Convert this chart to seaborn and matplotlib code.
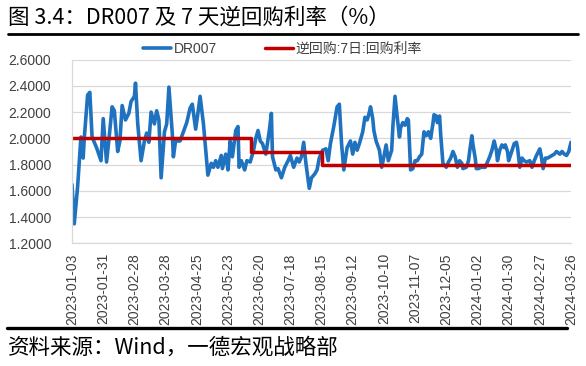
import pandas as pd
import matplotlib.pyplot as plt
import matplotlib.dates as mdates
from matplotlib.lines import Line2D
from matplotlib.ticker import FormatStrFormatter
import seaborn as sns

# ------------------------------------------------------------------
# Data
# ------------------------------------------------------------------
dr007_dates = [
    "2023-01-03", "2023-01-05", "2023-01-08", "2023-01-11", "2023-01-13", "2023-01-14",
    "2023-01-17", "2023-01-19", "2023-01-21", "2023-01-25", "2023-01-29", "2023-01-31",
    "2023-02-03", "2023-02-05", "2023-02-08", "2023-02-10", "2023-02-13", "2023-02-15",
    "2023-02-17", "2023-02-20", "2023-02-23", "2023-02-25", "2023-02-28", "2023-03-01",
    "2023-03-03", "2023-03-06", "2023-03-09", "2023-03-11", "2023-03-13", "2023-03-15",
    "2023-03-18", "2023-03-20", "2023-03-22", "2023-03-24", "2023-03-27", "2023-03-29",
    "2023-03-31", "2023-04-03", "2023-04-04", "2023-04-06", "2023-04-10", "2023-04-13",
    "2023-04-16", "2023-04-19", "2023-04-21", "2023-04-24", "2023-04-26", "2023-04-28",
    "2023-05-01", "2023-05-03", "2023-05-05", "2023-05-08", "2023-05-10", "2023-05-12",
    "2023-05-14", "2023-05-17", "2023-05-18", "2023-05-21", "2023-05-23", "2023-05-25",
    "2023-05-27", "2023-05-30", "2023-06-01", "2023-06-02", "2023-06-04", "2023-06-07",
    "2023-06-09", "2023-06-12", "2023-06-15", "2023-06-17", "2023-06-19", "2023-06-21",
    "2023-06-23", "2023-06-26", "2023-06-29", "2023-07-01", "2023-07-02", "2023-07-05",
    "2023-07-07", "2023-07-10", "2023-07-13", "2023-07-16", "2023-07-18", "2023-07-21",
    "2023-07-24", "2023-07-26", "2023-07-28", "2023-07-30", "2023-08-01", "2023-08-04",
    "2023-08-06", "2023-08-09", "2023-08-11", "2023-08-13", "2023-08-16", "2023-08-19",
    "2023-08-21", "2023-08-23", "2023-08-26", "2023-08-29", "2023-08-31", "2023-09-02",
    "2023-09-04", "2023-09-07", "2023-09-10", "2023-09-12", "2023-09-14", "2023-09-16",
    "2023-09-18", "2023-09-21", "2023-09-23", "2023-09-25", "2023-09-27", "2023-09-28",
    "2023-09-30", "2023-10-01", "2023-10-03", "2023-10-06", "2023-10-08", "2023-10-10",
    "2023-10-12", "2023-10-14", "2023-10-17", "2023-10-18", "2023-10-20", "2023-10-22",
    "2023-10-24", "2023-10-25", "2023-10-27", "2023-10-29", "2023-10-31", "2023-11-01",
    "2023-11-03", "2023-11-05", "2023-11-07", "2023-11-09", "2023-11-11", "2023-11-13",
    "2023-11-15", "2023-11-17", "2023-11-19", "2023-11-21", "2023-11-23", "2023-11-24",
    "2023-11-26", "2023-11-27", "2023-11-29", "2023-11-30", "2023-12-02", "2023-12-05",
    "2023-12-07", "2023-12-09", "2023-12-11", "2023-12-13", "2023-12-15", "2023-12-17",
    "2023-12-19", "2023-12-20", "2023-12-23", "2023-12-25", "2023-12-26", "2023-12-28",
    "2023-12-29", "2023-12-31", "2024-01-01", "2024-01-03", "2024-01-05", "2024-01-07",
    "2024-01-09", "2024-01-11", "2024-01-13", "2024-01-15", "2024-01-17", "2024-01-19",
    "2024-01-20", "2024-01-22", "2024-01-24", "2024-01-26", "2024-01-27", "2024-01-29",
    "2024-01-30", "2024-02-01", "2024-02-04", "2024-02-06", "2024-02-07", "2024-02-09",
    "2024-02-11", "2024-02-13", "2024-02-15", "2024-02-18", "2024-02-20", "2024-02-22",
    "2024-02-24", "2024-02-27", "2024-02-28", "2024-03-01", "2024-03-03", "2024-03-05",
    "2024-03-07", "2024-03-09", "2024-03-11", "2024-03-13", "2024-03-16", "2024-03-18",
    "2024-03-20", "2024-03-22", "2024-03-24", "2024-03-26",
]
dr007_values = [
    1.65, 1.35, 1.63, 2.01, 1.85, 2.00,
    2.33, 2.35, 2.01, 1.93, 1.83, 2.15,
    1.82, 1.98, 2.24, 2.21, 1.90, 1.98,
    2.25, 2.14, 2.19, 2.28, 2.32, 2.42,
    2.11, 1.83, 1.98, 2.04, 1.97, 2.20,
    2.11, 2.21, 2.14, 1.70, 2.05, 2.11,
    2.39, 2.04, 1.86, 1.98, 1.98, 2.05,
    2.12, 2.23, 2.26, 2.07, 2.19, 2.32,
    2.11, 1.91, 1.72, 1.81, 1.78, 1.83,
    1.78, 1.87, 1.77, 1.88, 1.76, 1.98,
    1.86, 2.06, 2.09, 1.78, 1.83, 1.76,
    1.83, 1.82, 1.91, 2.00, 2.06, 1.98,
    1.96, 1.88, 2.05, 2.19, 1.86, 1.76,
    1.77, 1.70, 1.78, 1.83, 1.87, 1.78,
    1.85, 1.82, 1.86, 1.97, 1.81, 1.62,
    1.70, 1.73, 1.76, 1.85, 1.91, 1.92,
    1.83, 1.96, 2.09, 2.24, 2.26, 1.96,
    1.76, 1.93, 1.98, 1.88, 1.97, 1.91,
    1.96, 2.05, 2.16, 2.14, 2.20, 2.24,
    2.15, 2.06, 1.98, 1.91, 1.78, 1.86,
    1.95, 1.83, 1.91, 2.08, 2.32, 2.16,
    2.01, 2.08, 2.12, 2.10, 2.15, 2.14,
    1.76, 1.77, 1.83, 1.83, 1.86, 1.88,
    2.05, 2.02, 2.05, 2.00, 2.11, 2.18,
    2.17, 2.12, 2.17, 2.03, 1.81, 1.78,
    1.82, 1.85, 1.90, 1.86, 1.78, 1.83,
    1.81, 1.77, 1.78, 1.83, 1.90, 2.02,
    1.95, 1.85, 1.77, 1.77, 1.78, 1.78,
    1.78, 1.82, 1.86, 1.91, 1.98, 1.91,
    1.83, 1.91, 1.95, 1.93, 1.95, 1.90,
    1.83, 1.88, 1.96, 1.97, 1.93, 1.78,
    1.85, 1.83, 1.82, 1.83, 1.78, 1.83,
    1.87, 1.92, 1.88, 1.77, 1.85, 1.85,
    1.86, 1.87, 1.88, 1.90, 1.88, 1.90,
    1.88, 1.87, 1.90, 1.97,
]

# 7-day reverse repo rate (policy rate, changes stepwise)
repo_dates = ["2023-01-03", "2023-06-13", "2023-08-15", "2024-03-26"]
repo_values = [2.0, 1.9, 1.8, 1.8]

tick_dates = [
    "2023-01-03", "2023-01-31", "2023-02-28", "2023-03-28", "2023-04-25",
    "2023-05-23", "2023-06-20", "2023-07-18", "2023-08-15", "2023-09-12",
    "2023-10-10", "2023-11-07", "2023-12-05", "2024-01-02", "2024-01-30",
    "2024-02-27", "2024-03-26",
]
y_ticks = [1.2, 1.4, 1.6, 1.8, 2.0, 2.2, 2.4, 2.6]

title_text = "图 3.4：DR007 及 7 天逆回购利率（%）"
source_text = "资料来源：Wind，一德宏观战略部"
label_dr = "DR007"
label_repo = "逆回购:7日:回购利率"

df_dr = pd.DataFrame({"date": pd.to_datetime(dr007_dates), "value": dr007_values})
df_repo = pd.DataFrame({"date": pd.to_datetime(repo_dates), "value": repo_values})

# ------------------------------------------------------------------
# Figure
# ------------------------------------------------------------------
sns.set_theme(style="white")
plt.rcParams["font.family"] = ["Liberation Sans", "Noto Sans CJK SC"]

fig = plt.figure(figsize=(5.86, 3.66), dpi=100)
ax = fig.add_axes([0.1229, 0.3347, 0.8515, 0.5027])

sns.lineplot(data=df_dr, x="date", y="value", ax=ax, color="#1F72BF",
             linewidth=2.6, label=label_dr, legend=False)
sns.lineplot(data=df_repo, x="date", y="value", ax=ax, color="#C00000",
             linewidth=2.5, drawstyle="steps-post", label=label_repo, legend=False)

# axes limits / ticks
ax.set_xlim(pd.Timestamp(tick_dates[0]), pd.Timestamp(tick_dates[-1]))
ax.set_ylim(y_ticks[0], y_ticks[-1])
ax.set_yticks(y_ticks)
ax.yaxis.set_major_formatter(FormatStrFormatter("%.4f"))
ax.set_xticks(pd.to_datetime(tick_dates))
ax.xaxis.set_major_formatter(mdates.DateFormatter("%Y-%m-%d"))
ax.set_xlabel("")
ax.set_ylabel("")

ax.grid(axis="y", color="#D9D9D9", linewidth=0.9)
ax.grid(axis="x", visible=False)
for side in ["top", "right"]:
    ax.spines[side].set_visible(False)
for side in ["left", "bottom"]:
    ax.spines[side].set_color("#D9D9D9")
    ax.spines[side].set_linewidth(0.9)

ax.tick_params(axis="x", rotation=90, labelsize=10, colors="#D9D9D9",
               labelcolor="#404040", length=3, width=0.9, direction="out", pad=4)
ax.tick_params(axis="y", labelsize=10, labelcolor="#404040", length=0, pad=15)

# legend
fig.legend(loc="center left", bbox_to_anchor=(136 / 586, 1 - 49 / 366), ncol=2,
           frameon=False, fontsize=10, handlelength=2.0, handletextpad=0.2,
           columnspacing=3.5, borderpad=0, labelcolor="#404040")

# title, rules and source
fig.text(8 / 586, 1 - 18 / 366, title_text, fontsize=15.5, va="center", ha="left",
         family=["Noto Sans CJK SC"], color="black")
fig.add_artist(Line2D([8 / 586, 578 / 586], [1 - 34 / 366, 1 - 34 / 366],
                      color="black", linewidth=2))
fig.add_artist(Line2D([7 / 586, 567 / 586], [1 - 328 / 366, 1 - 328 / 366],
                      color="black", linewidth=2.4))
fig.text(8 / 586, 1 - 348 / 366, source_text, fontsize=15.5, va="center", ha="left",
         family=["Noto Sans CJK SC"], color="black")

plt.savefig("out.png", dpi=100)
